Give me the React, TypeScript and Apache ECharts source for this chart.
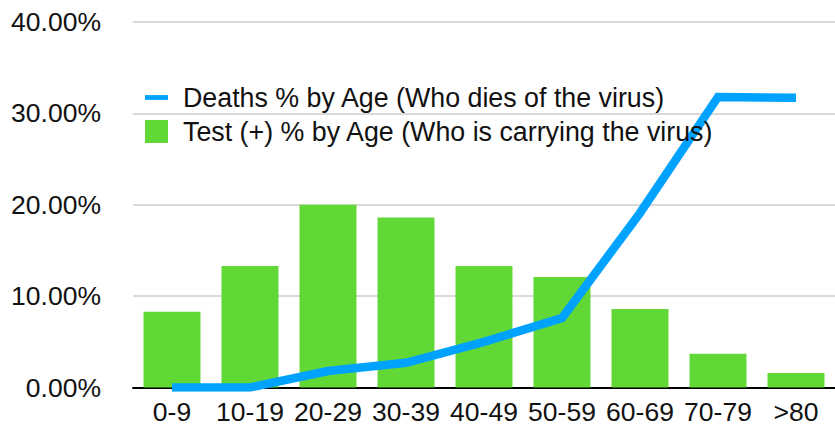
import React, { useEffect, useRef } from "react";
import * as echarts from "echarts";

const categories = ["0-9", "10-19", "20-29", "30-39", "40-49", "50-59", "60-69", "70-79", ">80"];
const testPositive = [8.3, 13.3, 20.0, 18.6, 13.3, 12.1, 8.6, 3.7, 1.6];
const deaths = [0, 0, 1.8, 2.7, 5.0, 7.6, 19.1, 31.8, 31.7];
const yTicks = { min: 0, max: 40, interval: 10 };
const FONT = "'Liberation Sans', Arial, Helvetica, sans-serif";

export default function App() {
  const ref = useRef<HTMLDivElement>(null);
  useEffect(() => {
    if (!ref.current) return;
    const chart = echarts.init(ref.current, undefined, { renderer: "svg" });
    chart.setOption({
      animation: false,
      backgroundColor: "#ffffff",
      textStyle: { fontFamily: FONT },
      grid: { left: 133, top: 22, bottom: 42.5, width: 707 },
      legend: {
        orient: "vertical",
        left: 140,
        top: 79,
        itemWidth: 23,
        itemHeight: 23,
        itemGap: 7,
        textStyle: { fontFamily: FONT, fontSize: 26.8, color: "#111", padding: [0, 0, 0, 10] },
        data: [
          { name: "Deaths % by Age (Who dies of the virus)", icon: "path://M0,0H24V5H0Z", itemStyle: { color: "#00A2FF" } },
          { name: "Test (+) % by Age (Who is carrying the virus)", icon: "rect" },
        ],
      },
      xAxis: {
        type: "category",
        data: categories,
        axisTick: { show: false },
        axisLine: { show: true, lineStyle: { color: "#000", width: 2 } },
        axisLabel: { fontFamily: FONT, fontSize: 26.5, color: "#111", margin: 11, interval: 0 },
      },
      yAxis: {
        type: "value",
        min: yTicks.min,
        max: yTicks.max,
        interval: yTicks.interval,
        axisLine: { show: false },
        axisTick: { show: false },
        splitLine: { lineStyle: { color: "#cccccc", width: 1.5 } },
        axisLabel: {
          fontFamily: FONT,
          fontSize: 26.5,
          color: "#111",
          margin: 32,
          formatter: (v: number) => v.toFixed(2) + "%",
        },
      },
      series: [
        {
          name: "Test (+) % by Age (Who is carrying the virus)",
          type: "bar",
          data: testPositive,
          barCategoryGap: "27%",
          itemStyle: { color: "#61D836" },
          z: 2,
        },
        {
          name: "Deaths % by Age (Who dies of the virus)",
          type: "line",
          data: deaths,
          symbol: "none",
          showSymbol: false,
          lineStyle: { color: "#00A2FF", width: 8.5, cap: "butt", join: "miter" },
          itemStyle: { color: "#00A2FF" },
          z: 3,
        },
      ],
    });
    return () => chart.dispose();
  }, []);
  return (
    <div
      ref={ref}
      style={{ position: "fixed", left: 0, top: 0, width: 835, height: 430 }}
    />
  );
}
